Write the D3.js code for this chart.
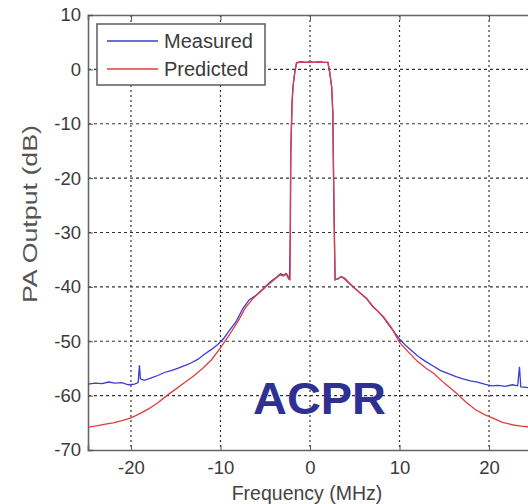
<!DOCTYPE html>
<html>
<head>
<meta charset="utf-8">
<script src="https://cdn.jsdelivr.net/npm/d3@7"></script>
<style>
  body { margin: 0; background: #fff; }
  text { font-family: Arial, "Liberation Sans", sans-serif; }
</style>
</head>
<body>
<svg id="chart"></svg>
<script>
var width = 528,
    height = 504;

// frequency (MHz) / PA output (dB)
var measuredFreq = [-24.8,-24.0,-23.2,-22.5,-21.8,-21.0,-20.3,-19.6,-19.2,-19.05,-18.95,-18.5,-17.8,-17.0,-16.2,-15.5,-14.8,-14.0,-13.3,-12.5,-11.8,-11.0,-10.3,-9.6,-9.0,-8.3,-7.5,-6.8,-6.0,-5.2,-4.4,-3.7,-3.3,-2.9,-2.6,-2.3,-2.2,-2.15,-2.0,-1.9,-1.7,-1.5,-1.0,-0.5,0,0.5,1.0,1.5,2.0,2.2,2.42,2.55,2.6,2.7,2.8,3.1,3.5,3.9,4.4,4.9,5.5,6.3,7.0,7.6,8.2,8.8,9.4,10.0,10.7,11.4,12.1,12.9,13.8,14.6,15.4,16.3,17.1,17.9,18.7,19.5,20.3,21.0,21.8,22.6,23.2,23.4,23.55,24.2,24.8];
var measuredDb = [-57.9,-57.7,-57.8,-57.5,-57.7,-57.6,-58.0,-57.9,-57.6,-54.4,-56.9,-57.2,-56.8,-56.3,-55.7,-55.4,-55.0,-54.5,-54.0,-53.3,-52.4,-51.5,-50.6,-49.4,-48.0,-46.5,-44.0,-42.4,-41.5,-40.3,-39.0,-38.2,-37.6,-37.9,-37.6,-38.7,-30,-15.4,-6,-3.2,-0.5,1.2,1.4,1.3,1.4,1.3,1.4,1.3,1.3,-0.5,-3.2,-8,-15.4,-28,-38.7,-38.5,-38.1,-38.6,-39.4,-40.1,-41.0,-42.1,-43.6,-44.5,-45.6,-47.0,-48.3,-49.6,-50.8,-51.8,-52.8,-53.7,-54.6,-55.4,-55.9,-56.5,-56.9,-57.3,-57.5,-57.9,-58.2,-58.1,-58.3,-58.0,-58.2,-54.7,-58.4,-58.5,-58.6];

var predictedFreq = [-24.8,-24.0,-23.0,-22.0,-21.0,-20.0,-19.0,-18.0,-17.0,-16.0,-15.0,-14.0,-13.0,-12.0,-11.0,-10.0,-9.0,-8.0,-7.2,-6.4,-5.6,-4.8,-4.0,-3.35,-3.0,-2.7,-2.4,-2.23,-2.2,-2.15,-2.0,-1.9,-1.7,-1.5,-1.0,-0.5,0,0.5,1.0,1.5,2.0,2.2,2.42,2.55,2.6,2.7,2.8,3.1,3.5,3.9,4.4,4.84,5.5,6.3,7.2,8.2,9.1,10.0,11.0,12.0,13.0,13.8,15.0,16.4,17.5,18.5,19.5,20.5,21.5,22.7,23.6,24.8];
var predictedDb = [-65.8,-65.6,-65.3,-65.0,-64.6,-64.1,-63.3,-62.4,-61.3,-60.0,-58.8,-57.6,-56.4,-55.0,-53.4,-51.2,-48.8,-46.2,-43.8,-42.2,-41.0,-39.8,-38.7,-37.8,-38.0,-37.5,-38.5,-38.7,-30,-15.4,-6,-3.2,-0.5,1.2,1.4,1.3,1.4,1.3,1.4,1.3,1.3,-0.5,-3.2,-8,-15.4,-28,-38.7,-38.6,-38.1,-38.4,-39.3,-40.0,-41.0,-42.1,-43.9,-45.5,-47.5,-50.2,-52.0,-53.7,-55.0,-55.9,-57.7,-59.6,-61.3,-62.6,-63.5,-64.2,-64.9,-65.4,-65.6,-65.8];

var xTicks = [-20,-10,0,10,20];
var yTicks = [10,0,-10,-20,-30,-40,-50,-60,-70];
var seriesNames = ['Measured','Predicted'];
var seriesColors = ['#3c3cd2','#e23c3c'];

// plot box (right edge falls just outside the picture)
var pLeft = 88, pRight = 532, pTop = 15, pBottom = 450;

var x = d3.scaleLinear().domain([-24.8, 24.8]).range([pLeft, pRight]);
var y = d3.scaleLinear().domain([-70, 10]).range([pBottom, pTop]);

var svg = d3.select('#chart')
            .attr('width', width)
            .attr('height', height);

svg.append('rect').attr('width', width).attr('height', height).attr('fill', '#fff');

svg.append('clipPath').attr('id', 'clip')
  .append('rect')
    .attr('x', pLeft).attr('y', pTop)
    .attr('width', pRight - pLeft).attr('height', pBottom - pTop);

// dotted grid
svg.append('g').selectAll('line')
    .data(xTicks)
    .enter().append('line')
      .attr('x1', d => x(d)).attr('x2', d => x(d))
      .attr('y1', pTop).attr('y2', pBottom)
      .attr('stroke', '#333').attr('stroke-width', 1.2)
      .attr('stroke-dasharray', '2,3');

svg.append('g').selectAll('line')
    .data(yTicks.slice(1, -1))
    .enter().append('line')
      .attr('x1', pLeft).attr('x2', pRight)
      .attr('y1', d => y(d)).attr('y2', d => y(d))
      .attr('stroke', '#333').attr('stroke-width', 1.2)
      .attr('stroke-dasharray', '3,3');

// axes, ticks pointing inward, plain hyphen minus like the original
var fmt = d => String(d);
var xAxis = d3.axisBottom(x).tickValues(xTicks).tickSize(-5).tickPadding(11).tickFormat(fmt);
var xAxisTop = d3.axisTop(x).tickValues(xTicks).tickSize(-5).tickFormat('');
var yAxis = d3.axisLeft(y).tickValues(yTicks).tickSize(-5).tickPadding(7).tickFormat(fmt);

svg.append('g').attr('transform', 'translate(0,' + pBottom + ')').call(xAxis).classed('axis', true);
svg.append('g').attr('transform', 'translate(0,' + pTop + ')').call(xAxisTop).classed('axis', true);
svg.append('g').attr('transform', 'translate(' + pLeft + ',0)').call(yAxis).classed('axis', true);

svg.selectAll('.axis .domain').attr('stroke', '#666').attr('stroke-width', 1.6);
svg.selectAll('.axis .tick line').attr('stroke', '#555');
svg.selectAll('.axis text')
    .attr('font-size', '18.5px')
    .attr('fill', '#3a3a3a')
    .style('font-family', 'Arial, "Liberation Sans", sans-serif');

var line = d3.line()
              .x(d => x(d[0]))
              .y(d => y(d[1]));

var lines = svg.append('g').attr('clip-path', 'url(#clip)');

lines.append('path')
    .datum(d3.zip(measuredFreq, measuredDb))
    .attr('fill', 'none')
    .attr('stroke', seriesColors[0])
    .attr('stroke-width', 1.3)
    .attr('d', line);

lines.append('path')
    .datum(d3.zip(predictedFreq, predictedDb))
    .attr('fill', 'none')
    .attr('stroke', seriesColors[1])
    .attr('stroke-width', 1.3)
    .attr('d', line);

// legend
var legend = svg.append('g');
legend.append('rect')
    .attr('x', 97).attr('y', 24)
    .attr('width', 168).attr('height', 61)
    .attr('fill', '#fff').attr('stroke', '#666').attr('stroke-width', 1.6);

legend.selectAll('.legItem')
    .data(seriesNames)
    .enter().append('g')
      .classed('legItem', true)
      .attr('transform', (d, i) => 'translate(0,' + (41 + i * 28) + ')')
      .each(function(d, i) {
        var g = d3.select(this);
        g.append('line')
          .attr('x1', 107).attr('x2', 158)
          .attr('stroke', seriesColors[i]).attr('stroke-width', 1.5);
        g.append('text')
          .attr('x', 164).attr('y', 7)
          .attr('font-size', '20px')
          .attr('fill', '#3a3a3a')
          .text(d);
      });

// axis labels
svg.append('text')
    .attr('x', 307).attr('y', 500)
    .attr('text-anchor', 'middle')
    .attr('font-size', '19.5px')
    .attr('fill', '#444')
    .text('Frequency (MHz)');

svg.append('text')
    .attr('transform', 'translate(37,214) rotate(-90)')
    .attr('text-anchor', 'middle')
    .attr('font-size', '20px')
    .attr('textLength', 178)
    .attr('lengthAdjust', 'spacingAndGlyphs')
    .attr('fill', '#555')
    .text('PA Output (dB)');

svg.append('text')
    .attr('x', 253).attr('y', 414)
    .attr('font-size', '44px')
    .attr('font-weight', 'bold')
    .attr('textLength', 133)
    .attr('lengthAdjust', 'spacingAndGlyphs')
    .attr('fill', '#2e3192')
    .text('ACPR');
</script>
</body>
</html>
